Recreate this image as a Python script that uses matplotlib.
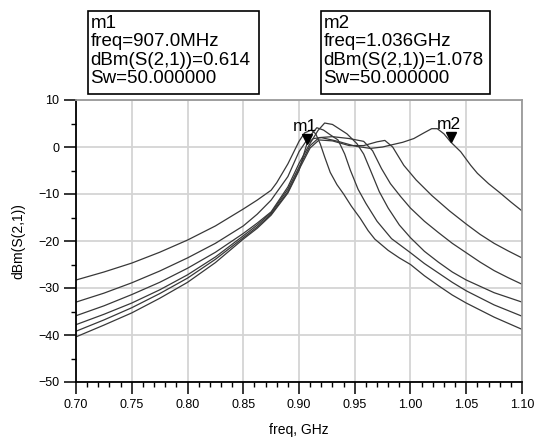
import matplotlib
matplotlib.use("Agg")
import matplotlib.pyplot as plt
import matplotlib.transforms as mtransforms
from matplotlib.patches import Rectangle
from matplotlib.ticker import MultipleLocator, FormatStrFormatter

plt.rcParams['font.family'] = ['Liberation Sans', 'DejaVu Sans']

# swept curves (freq in GHz, dBm(S(2,1)))
freq_1 = [0.70, 0.725, 0.75, 0.775, 0.80, 0.825, 0.85, 0.8625, 0.875, 0.88, 0.89, 0.895, 0.90, 0.905,
          0.911, 0.915, 0.919, 0.923, 0.928, 0.934, 0.940, 0.947, 0.955, 0.962, 0.968, 0.98, 0.99,
          1.00, 1.0125, 1.025, 1.0375, 1.05, 1.075, 1.10]
dbm_1 = [-28.3, -26.6, -24.7, -22.4, -19.8, -16.8, -13.2, -11.3, -9.2, -7.6, -3.6, -1.2, 1.2, 3.0,
         3.6, 2.8, 0.7, -2.1, -5.4, -8.0, -10.0, -12.6, -15.2, -17.8, -19.6, -22.0, -23.6,
         -25.0, -27.4, -29.5, -31.5, -33.2, -36.2, -38.8]

freq_2 = [0.70, 0.725, 0.75, 0.775, 0.80, 0.825, 0.85, 0.8625, 0.875, 0.89, 0.90, 0.908, 0.916, 0.922,
          0.928, 0.935, 0.941, 0.946, 0.953, 0.96, 0.97, 0.983, 1.00, 1.0125, 1.025, 1.0375, 1.05,
          1.075, 1.10]
dbm_2 = [-33.0, -31.1, -28.9, -26.4, -23.6, -20.5, -16.8, -14.3, -11.3, -6.3, -1.0, 1.8, 4.1, 3.6,
         2.6, 1.5, -1.5, -4.9, -9.0, -12.0, -15.8, -19.5, -22.5, -24.8, -26.8, -28.8, -30.6,
         -33.6, -36.0]

freq_3 = [0.70, 0.725, 0.75, 0.775, 0.80, 0.825, 0.85, 0.8625, 0.875, 0.89, 0.90, 0.91, 0.917, 0.923,
          0.93, 0.943, 0.952, 0.958, 0.964, 0.972, 0.98, 0.99, 1.00, 1.0125, 1.025, 1.0375, 1.05,
          1.075, 1.10]
dbm_3 = [-35.9, -33.8, -31.4, -28.8, -25.8, -22.4, -18.4, -16.2, -13.8, -8.5, -3.5, 0.8, 3.5, 5.1,
         4.8, 2.8, 0.7, -1.5, -4.9, -9.5, -13.0, -16.6, -19.3, -22.2, -24.5, -26.6, -28.3,
         -31.0, -33.0]

freq_4 = [0.70, 0.725, 0.75, 0.775, 0.80, 0.825, 0.85, 0.8625, 0.875, 0.89, 0.90, 0.91, 0.918, 0.93,
          0.945, 0.958, 0.966, 0.974, 0.982, 0.991, 1.00, 1.0125, 1.025, 1.0375, 1.05, 1.0625,
          1.075, 1.0875, 1.10]
dbm_4 = [-37.8, -35.6, -33.2, -30.4, -27.2, -23.4, -18.9, -16.6, -14.0, -9.0, -4.3, 0.3, 2.0, 2.2,
         1.8, 1.2, -0.8, -4.6, -7.8, -10.5, -13.0, -15.8, -18.2, -20.5, -22.5, -24.5,
         -26.3, -27.8, -29.2]

freq_5 = [0.70, 0.725, 0.75, 0.775, 0.80, 0.825, 0.85, 0.8625, 0.875, 0.89, 0.90, 0.91, 0.918, 0.93,
          0.945, 0.958, 0.97, 0.977, 0.984, 0.994, 1.005, 1.019, 1.035, 1.05, 1.0625, 1.075,
          1.0875, 1.10]
dbm_5 = [-39.2, -36.8, -34.2, -31.2, -27.9, -23.9, -19.3, -17.0, -14.3, -9.5, -4.8, -0.2, 1.5, 1.3,
         0.3, 0.3, 1.1, 1.4, 0.0, -3.9, -7.0, -10.3, -13.6, -16.4, -18.6, -20.5,
         -22.1, -23.6]

freq_6 = [0.70, 0.725, 0.75, 0.775, 0.80, 0.825, 0.85, 0.8625, 0.875, 0.89, 0.90, 0.907, 0.913, 0.92,
          0.935, 0.95, 0.964, 0.975, 0.982, 0.993, 1.003, 1.012, 1.019, 1.024, 1.03, 1.036, 1.045,
          1.054, 1.06, 1.07, 1.08, 1.09, 1.10]
dbm_6 = [-40.4, -37.9, -35.3, -32.2, -28.8, -24.6, -19.6, -17.3, -14.5, -9.8, -5.0, 0.614, 1.8, 2.0,
         1.2, 0.2, -0.3, 0.0, 0.4, 1.0, 1.8, 3.0, 3.9, 3.9, 2.8, 1.078, -1.0,
         -3.9, -5.6, -7.8, -9.7, -11.7, -13.6]

curves = [(freq_1, dbm_1), (freq_2, dbm_2), (freq_3, dbm_3),
          (freq_4, dbm_4), (freq_5, dbm_5), (freq_6, dbm_6)]

# markers
marker_names = ['m1', 'm2']
marker_freq = [0.907, 1.036]
marker_dbm = [0.614, 1.078]
marker_freq_txt = ['907.0MHz', '1.036GHz']
sw_value = 50.0

fig = plt.figure(figsize=(5.36, 4.41), dpi=100)
W, H = 536, 441
ax = fig.add_axes([76 / W, 1 - 382 / H, (522 - 76) / W, (382 - 100) / H])

for f, d in curves:
    ax.plot(f, d, color='#383838', linewidth=0.9)

# marker triangles, tip sitting on the curve
tri_trans = mtransforms.offset_copy(ax.transData, fig=fig, x=0, y=3.6, units='points')
for name, fx, dy in zip(marker_names, marker_freq, marker_dbm):
    ax.plot([fx], [dy], marker='v', color='black', markersize=7.5, transform=tri_trans, zorder=5)
    ax.annotate(name, xy=(fx, dy), xytext=(-1, 7), textcoords='offset points',
                ha='center', va='bottom', fontsize=12.5, zorder=6)

ax.set_xlim(0.70, 1.10)
ax.set_ylim(-50, 10)
ax.xaxis.set_major_locator(MultipleLocator(0.05))
ax.xaxis.set_minor_locator(MultipleLocator(0.01))
ax.xaxis.set_major_formatter(FormatStrFormatter('%.2f'))
ax.yaxis.set_major_locator(MultipleLocator(10))
ax.yaxis.set_minor_locator(MultipleLocator(5))

ax.grid(True, which='major', color='#d4d4d4', linewidth=1.3)
ax.set_axisbelow(True)
ax.tick_params(which='major', direction='out', length=8.5, width=1.1, labelsize=9, pad=3.5)
ax.tick_params(which='minor', direction='out', length=3.5, width=1.0)

for s in ['left', 'bottom']:
    ax.spines[s].set_color('black')
    ax.spines[s].set_linewidth(1.3)
for s in ['top', 'right']:
    ax.spines[s].set_color('#9a9a9a')
    ax.spines[s].set_linewidth(1.3)

ax.set_xlabel('freq, GHz', fontsize=10, labelpad=9)
ax.set_ylabel('dBm(S(2,1))', fontsize=10, labelpad=9)

# marker readout boxes
box_left = [88, 321]
box_right = [259, 490]
for i in range(2):
    x0, x1 = box_left[i], box_right[i]
    fig.patches.append(Rectangle((x0 / W, 1 - 94 / H), (x1 - x0) / W, 83 / H,
                                 transform=fig.transFigure, fill=False,
                                 edgecolor='black', linewidth=1.2))
    txt = '%s\nfreq=%s\ndBm(S(2,1))=%.3f\nSw=%.6f' % (marker_names[i], marker_freq_txt[i],
                                                   marker_dbm[i], sw_value)
    fig.text((x0 + 2.5) / W, 1 - 15 / H, txt, ha='left', va='top', fontsize=13.5,
             linespacing=1.1)

fig.savefig('out.png', dpi=100)
